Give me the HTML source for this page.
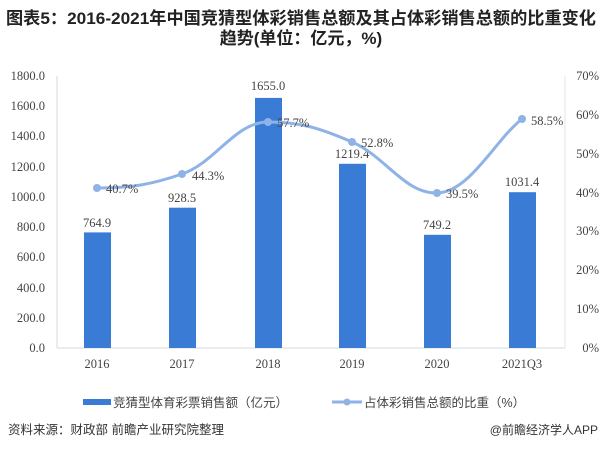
<!DOCTYPE html>
<html><head><meta charset="utf-8"><style>
body{margin:0;background:#fff;width:602px;height:448px;overflow:hidden}
</style></head><body>
<svg width="602" height="448" xmlns="http://www.w3.org/2000/svg">
<text x="6" y="24" textLength="590" lengthAdjust="spacingAndGlyphs" font-family="Liberation Sans,'Noto Sans CJK SC',sans-serif" font-size="17" font-weight="bold" fill="#222">图表5：2016-2021年中国竞猜型体彩销售总额及其占体彩销售总额的比重变化</text>
<text x="301" y="44" text-anchor="middle" font-family="Liberation Sans,'Noto Sans CJK SC',sans-serif" font-size="17" font-weight="bold" fill="#222">趋势(单位：亿元，%)</text>
<g font-family="Liberation Serif,serif" font-size="12.5" fill="#444">
<line x1="57" y1="76" x2="57" y2="348" stroke="#d9d9d9"/>
<line x1="57" y1="348" x2="565" y2="348" stroke="#d9d9d9"/>
<line x1="565" y1="76" x2="565" y2="348" stroke="#e6e6e6"/>
<g text-anchor="end">
<text x="45" y="80">1800.0</text><text x="45" y="110">1600.0</text><text x="45" y="140">1400.0</text><text x="45" y="171">1200.0</text><text x="45" y="201">1000.0</text><text x="45" y="231">800.0</text><text x="45" y="261">600.0</text><text x="45" y="292">400.0</text><text x="45" y="322">200.0</text><text x="45" y="352">0.0</text>
</g>
<g text-anchor="end">
<text x="599" y="80">70%</text><text x="599" y="119">60%</text><text x="599" y="158">50%</text><text x="599" y="197">40%</text><text x="599" y="235">30%</text><text x="599" y="274">20%</text><text x="599" y="313">10%</text><text x="599" y="352">0%</text>
</g>
<g fill="#3a7bd5">
<rect x="84" y="232.4" width="27" height="115.6"/>
<rect x="169" y="207.7" width="27" height="140.3"/>
<rect x="255" y="97.9" width="27" height="250.1"/>
<rect x="339" y="163.8" width="27" height="184.2"/>
<rect x="424" y="234.8" width="27" height="113.2"/>
<rect x="509" y="192.2" width="27" height="155.8"/>
</g>
<g text-anchor="middle">
<text x="97" y="227">764.9</text><text x="182" y="202">928.5</text><text x="268" y="90">1655.0</text><text x="352" y="158">1219.4</text><text x="437" y="229">749.2</text><text x="522" y="186">1031.4</text>
<text x="97" y="368">2016</text><text x="182" y="368">2017</text><text x="268" y="368">2018</text><text x="352" y="368">2019</text><text x="437" y="368">2020</text><text x="522" y="368">2021Q3</text>
</g>
<path d="M97,188 C130,188 150,185 182,174 C215,163 235,122 268,122 C300,122 320,128 352,142 C385,156 405,194 437,193 C470,192 495,140 522,119" fill="none" stroke="#8fb3e6" stroke-width="3"/>
<g fill="#8fb3e6"><circle cx="97" cy="188" r="4"/><circle cx="182" cy="174" r="4"/><circle cx="268" cy="122" r="4"/><circle cx="352" cy="142" r="4"/><circle cx="437" cy="193" r="4"/><circle cx="522" cy="119" r="4"/></g>
<text x="106" y="193">40.7%</text><text x="192" y="180">44.3%</text><text x="277" y="127">57.7%</text><text x="361" y="147">52.8%</text><text x="446" y="198">39.5%</text><text x="531" y="125">58.5%</text>
</g>
<g font-family="Liberation Sans,'Noto Sans CJK SC',sans-serif" font-size="12.5" fill="#444">
<rect x="83" y="399" width="28" height="6" fill="#3a7bd5"/>
<text x="113" y="407">竞猜型体育彩票销售额（亿元）</text>
<line x1="332" y1="402" x2="362" y2="402" stroke="#8fb3e6" stroke-width="3"/>
<circle cx="347" cy="402" r="3.5" fill="#8fb3e6"/>
<text x="364" y="407">占体彩销售总额的比重（%）</text>
<text x="8" y="434" font-size="12.5" fill="#333">资料来源：财政部 前瞻产业研究院整理</text>
<text x="598" y="434" font-size="12" text-anchor="end" fill="#333">@前瞻经济学人APP</text>
</g>
</svg>
</body></html>
